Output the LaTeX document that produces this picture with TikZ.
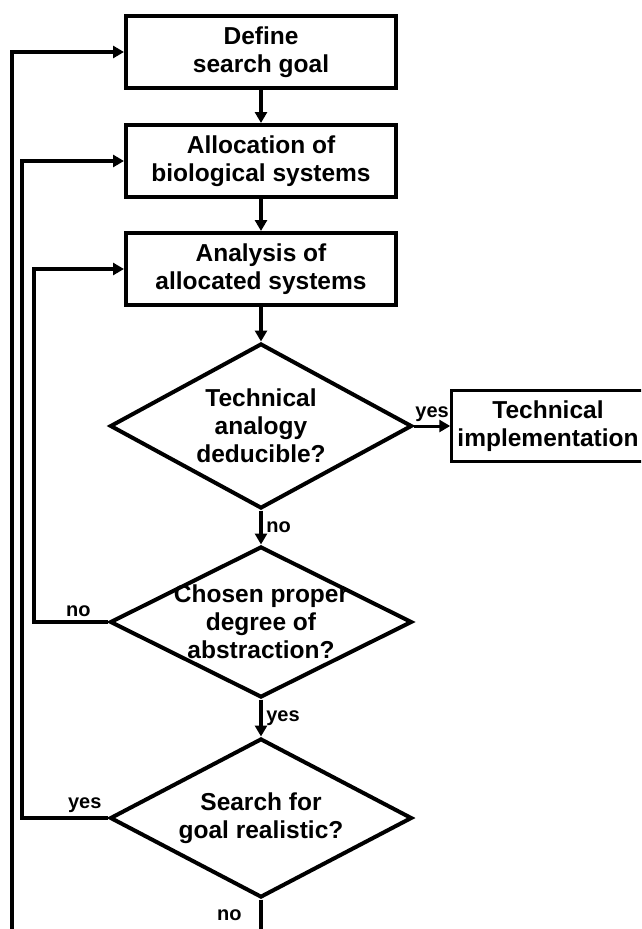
\documentclass[tikz,border=0pt]{standalone}
\usepackage{fontspec}
\setmainfont{Liberation Sans}
\usetikzlibrary{shapes.geometric,arrows.meta}
\begin{document}
\begin{tikzpicture}[x=1pt,y=-1pt,>={Triangle[length=11pt,width=12pt]},line width=4pt,
        box/.style={draw,rectangle,minimum width=270pt,minimum height=72pt,inner sep=0pt},
        dia/.style={draw,diamond,minimum width=302pt,inner sep=0pt},
        txt/.style={align=center,font=\fontsize{24.5}{28}\selectfont\bfseries},
        lbl/.style={font=\fontsize{20}{24}\selectfont\bfseries}]
        \useasboundingbox (0,0) rectangle (641,929);
        \clip (0,0) rectangle (641,929);
        \node[box,txt] (goal) at (261,52) {Define\\search goal};
        \node[box,txt] (alloc) at (261,161) {Allocation of\\biological systems};
        \node[box,txt] (analysis) at (261,269) {Analysis of\\allocated systems};
        \node[dia,minimum height=165pt] (analogy) at (261,426) {};
        \node[txt] (analogytext) at (analogy) {Technical\\analogy\\deducible?};
        \node[draw,line width=2.5pt,minimum width=193pt,minimum height=71pt,inner sep=0pt,txt] (impl) at (548,426) {Technical\\implementation};
        \node[dia,minimum height=151pt] (abstr) at (261,622) {};
        \node[txt] (abstrtext) at (abstr) {Chosen proper\\degree of\\abstraction?};
        \node[dia,minimum height=159pt] (real) at (261,818) {};
        \node[txt] (realtext) at (real) {Search for\\goal realistic?};
        \draw[->] (goal) -- (alloc);
        \draw[->] (alloc) -- (analysis);
        \draw[->] (analysis) -- (analogy);
        \draw[->,line width=3pt] (analogy) -- node[above,lbl]{yes} (impl);
        \draw[->] (analogy) -- node[right,lbl]{no} (abstr);
        \draw[->] (abstr) -- node[right,lbl]{yes} (real);
        % loops back on the left
        \draw[->] (abstr.west) -- node[above,lbl,pos=0.4]{no} ++(-74,0) |- (analysis.west);
        \draw[->] (real.west) -- node[above,lbl,pos=0.27]{yes} ++(-86,0) |- (alloc.west);
        \draw[->] (real.south) -- node[left,lbl,pos=0.23,xshift=-14pt]{no} ++(0,70) -- ++(-249,0) |- (goal.west);
    \end{tikzpicture}
\end{document}
